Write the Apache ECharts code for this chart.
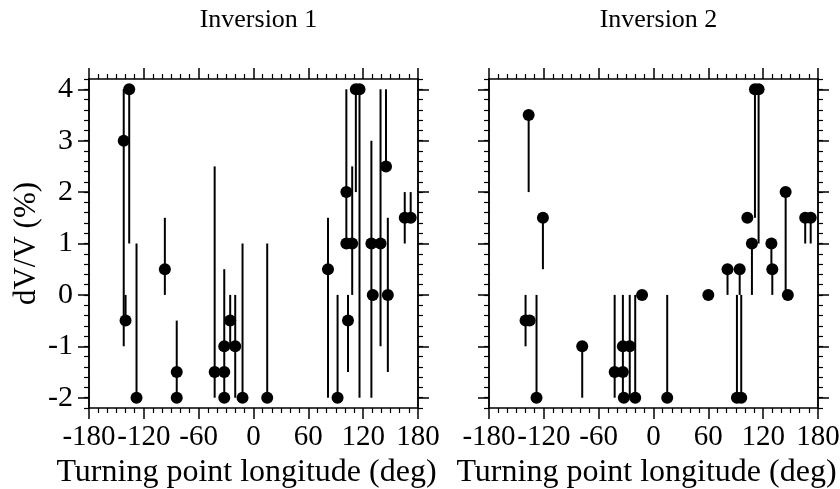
<!DOCTYPE html>
<html>
<head>
<meta charset="utf-8">
<script src="https://cdn.jsdelivr.net/npm/echarts@6/dist/echarts.min.js"></script>
<style>html,body{margin:0;padding:0;background:#fff}#c{width:840px;height:489px}</style>
</head>
<body>
<div id="c"></div>
<script>
// ---- Data ----
var panelTitles = ['Inversion 1', 'Inversion 2'];
var xTickLabels = [-180, -120, -60, 0, 60, 120, 180];
var yTickLabels = [-2, -1, 0, 1, 2, 3, 4];

var inv1Lon = [-142, -136, -140, -128, -97, -84, -84, -42.5, -32, -32, -32, -25.5, -20, -12, 15, 81.5, 92, 101.6, 101.6, 103.4, 108, 112, 116, 129, 130.5, 139, 145, 147, 165.5, 172];
var inv1Val = [3, 4, -0.5, -2, 0.5, -1.5, -2, -1.5, -1, -1.5, -2, -0.5, -1, -2, -2, 0.5, -2, 2, 1, -0.5, 1, 4, 4, 1, 0, 1, 2.5, 0, 1.5, 1.5];
var inv1Lo  = [-1, 1, -0.5, -2, 0, -2, -2, -2, -2, -1.5, -2, -1, -2, -2, -2, -2, -2, 1, 1, -1.5, 0, 2, -2, -2, 0, -1, 2.5, -1.5, 1, 1.5];
var inv1Hi  = [4, 4, 0, 1, 1.5, -0.5, -2, 2.5, 0.5, -1.5, -2, 0, 0, 1, 1, 1.5, 0, 4, 1, 0, 2.5, 4, 4, 3, 0, 4, 4, 1.5, 2, 2];

var inv2Lon = [-136.6, -121, -140, -135.5, -128, -78, -42.5, -33.5, -33.5, -32.5, -26, -20, -12.5, 15, 60, 81, 94.3, 91.3, 96, 102.7, 107.7, 111, 115, 129, 130, 144.6, 147, 166, 172];
var inv2Val = [3.5, 1.5, -0.5, -0.5, -2, -1, -1.5, -1, -1.5, -2, -1, -2, 0, -2, 0, 0.5, 0.5, -2, -2, 1.5, 1, 4, 4, 1, 0.5, 2, 0, 1.5, 1.5];
var inv2Lo  = [2, 0.5, -1, -0.5, -2, -2, -2, -2, -1.5, -2, -2, -2, 0, -2, 0, 0, 0, -2, -2, 1.5, 0, 1.5, 1, 0.5, 0, 0, 0, 1, 1];
var inv2Hi  = [3.5, 1.5, 0, -0.5, 0, -1, 0, 0, -1.5, -2, 0, 0, 0, 0, 0, 0.5, 0.5, 0, 0, 1.5, 1, 4, 4, 1, 0.5, 2, 0, 1.5, 1.5];

// ---- Chart ----
var FONT = '"Liberation Serif", "Times New Roman", serif';
var YMIN = -2.2, YMAX = 4.2;
var minorY = [];
for (var v = -22; v <= 42; v += 2) { minorY.push(v / 10); }

var grids = [
  {left: 89, top: 79, width: 329, height: 329, outerBoundsMode: 'none', containLabel: false},
  {left: 489, top: 79, width: 329, height: 329, outerBoundsMode: 'none', containLabel: false}
];
var lineStyle = {color: '#000', width: 1.5};
var xAxes = [], yAxes = [], series = [], titles = [];

function panel(g, lon, val, lo, hi) {
  ['bottom', 'top'].forEach(function (pos) {
    xAxes.push({
      gridIndex: g, type: 'value', position: pos, min: -180, max: 180, interval: 60,
      axisLine: {show: true, onZero: false, lineStyle: lineStyle},
      axisTick: {show: true, length: 11, lineStyle: {color: '#000', width: 1.5}},
      minorTick: {show: true, splitNumber: 6, length: 5, lineStyle: {color: '#000', width: 1.2}},
      splitLine: {show: false}, minorSplitLine: {show: false},
      axisLabel: {show: pos === 'bottom', color: '#000', fontFamily: FONT, fontSize: 29, margin: 15,
        customValues: xTickLabels, interval: 0, hideOverlap: false, showMinLabel: true, showMaxLabel: true},
      name: pos === 'bottom' ? 'Turning point longitude (deg)' : '',
      nameLocation: 'middle', nameGap: 41,
      nameTextStyle: {color: '#000', fontFamily: FONT, fontSize: 32, padding: [0, 14, 0, 0]}
    });
  });
  ['left', 'right'].forEach(function (pos) {
    [true, false].forEach(function (major) {
      yAxes.push({
        gridIndex: g, type: 'value', position: pos, min: YMIN, max: YMAX, offset: 0,
        axisLine: {show: true, onZero: false, lineStyle: lineStyle},
        axisTick: {show: true, length: major ? 11 : 5, customValues: major ? yTickLabels : minorY,
          lineStyle: {color: '#000', width: major ? 1.5 : 1.2}},
        minorTick: {show: false},
        splitLine: {show: false},
        axisLabel: {show: major && pos === 'left' && g === 0, customValues: yTickLabels,
          color: '#000', fontFamily: FONT, fontSize: 30, margin: 16},
        name: (major && pos === 'left' && g === 0) ? 'dV/V (%)' : '',
        nameLocation: 'middle', nameGap: 47, nameRotate: 90,
        nameTextStyle: {color: '#000', fontFamily: FONT, fontSize: 31}
      });
    });
  });
  var xi = g * 2, yi = g * 4;
  var barData = lon.map(function (x, i) { return [x, lo[i], hi[i]]; });
  var dotData = lon.map(function (x, i) { return [x, val[i]]; });
  series.push({
    type: 'custom', xAxisIndex: xi, yAxisIndex: yi, data: barData, z: 2, silent: true,
    encode: {x: 0, y: [1, 2]},
    renderItem: function (params, api) {
      var p1 = api.coord([api.value(0), api.value(1)]);
      var p2 = api.coord([api.value(0), api.value(2)]);
      return {type: 'line', shape: {x1: p1[0], y1: p1[1], x2: p2[0], y2: p2[1]},
        style: {stroke: '#000', lineWidth: 2}};
    }
  });
  series.push({
    type: 'scatter', xAxisIndex: xi, yAxisIndex: yi, data: dotData, z: 3, silent: true,
    symbol: 'circle', symbolSize: 12, itemStyle: {color: '#000', opacity: 1}
  });
  titles.push({
    text: panelTitles[g], left: grids[g].left + grids[g].width / 2, top: 2, textAlign: 'center',
    textStyle: {color: '#000', fontFamily: FONT, fontSize: 26, fontWeight: 'normal'}
  });
}
panel(0, inv1Lon, inv1Val, inv1Lo, inv1Hi);
panel(1, inv2Lon, inv2Val, inv2Lo, inv2Hi);

var chart = echarts.init(document.getElementById('c'), null, {renderer: 'canvas'});
chart.setOption({
  animation: false,
  backgroundColor: '#fff',
  title: titles,
  grid: grids,
  xAxis: xAxes,
  yAxis: yAxes,
  series: series
});
</script>
</body>
</html>
